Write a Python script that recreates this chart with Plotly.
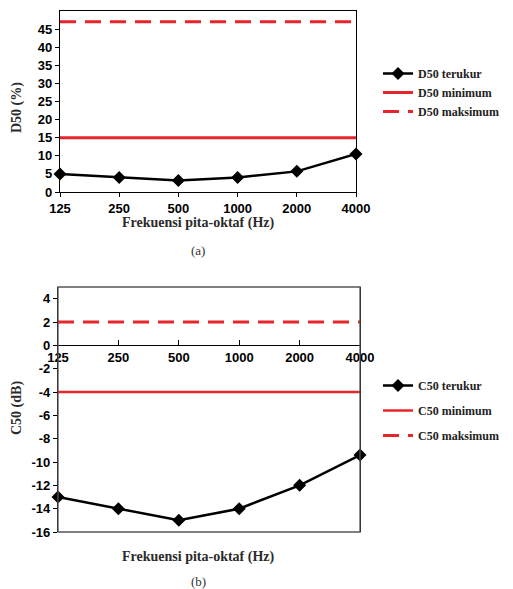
import plotly.graph_objects as go

freq_labels = ["125", "250", "500", "1000", "2000", "4000"]
d50_measured = [5.0, 4.0, 3.2, 4.0, 5.7, 10.5]
d50_min = [15] * 6
d50_max = [47] * 6
c50_measured = [-13.0, -14.0, -15.0, -14.0, -12.0, -9.4]
c50_min = [-4] * 6
c50_max = [2] * 6
d50_ticks = list(range(0, 50, 5))
c50_ticks = list(range(-16, 5, 2))

# page body has an 8px margin, so the figure is drawn at (8, 8)
OFF = 8
W, H = 513 - OFF, 589 - OFF
xi = list(range(len(freq_labels)))
RED = "#e8262a"
SERIF = "Liberation Serif"
SANS = "Liberation Sans"

def px(v):
    return (v - OFF) / W

def py(v):
    return 1 - (v - OFF) / H

fig = go.Figure()

# top chart
fig.add_trace(go.Scatter(x=xi, y=d50_measured, mode="lines+markers", name="D50 terukur",
                         line=dict(color="black", width=2.5),
                         marker=dict(symbol="diamond", size=10, color="black"),
                         xaxis="x", yaxis="y", legend="legend", cliponaxis=False))
fig.add_trace(go.Scatter(x=xi, y=d50_min, mode="lines", name="D50 minimum",
                         line=dict(color=RED, width=3), xaxis="x", yaxis="y", legend="legend"))
fig.add_trace(go.Scatter(x=xi, y=d50_max, mode="lines", name="D50 maksimum",
                         line=dict(color=RED, width=3, dash="16px,9px"), xaxis="x", yaxis="y", legend="legend"))

# bottom chart
fig.add_trace(go.Scatter(x=xi, y=c50_measured, mode="lines+markers", name="C50 terukur",
                         line=dict(color="black", width=2.5),
                         marker=dict(symbol="diamond", size=10, color="black"),
                         xaxis="x2", yaxis="y2", legend="legend2", legendgroup="a", cliponaxis=False))
fig.add_trace(go.Scatter(x=xi, y=c50_min, mode="lines", name="C50 minimum",
                         line=dict(color=RED, width=2.5), xaxis="x2", yaxis="y2",
                         legend="legend2", legendgroup="b"))
fig.add_trace(go.Scatter(x=xi, y=c50_max, mode="lines", name="C50 maksimum",
                         line=dict(color=RED, width=3, dash="16px,9px"), xaxis="x2", yaxis="y2",
                         legend="legend2", legendgroup="c"))

tickfont = dict(family=SANS, size=13, color="black", weight="bold")
axis_common = dict(showline=True, linecolor="black", linewidth=1.3, mirror=True,
                   showgrid=False, zeroline=False, tickfont=tickfont, ticklen=4,
                   tickcolor="black", automargin=False)

top_dom_y = [py(192), py(11)]
bot_dom_y = [py(532), py(287)]
bot_range = [-16, 5]
zero_pos = bot_dom_y[0] + (bot_dom_y[1] - bot_dom_y[0]) * (0 - bot_range[0]) / (bot_range[1] - bot_range[0])

fig.update_layout(
    width=W, height=H,
    margin=dict(l=0, r=0, t=0, b=0, autoexpand=False),
    paper_bgcolor="white", plot_bgcolor="white",
    xaxis=dict(domain=[px(60), px(356)], range=[0, 5], tickvals=xi, ticktext=freq_labels,
               ticks="outside", anchor="y", **axis_common),
    yaxis=dict(domain=top_dom_y, range=[0, 50], tickvals=d50_ticks,
               ticktext=[str(t) for t in d50_ticks],
               ticks="outside", anchor="x", **axis_common),
    xaxis2=dict(domain=[px(58), px(360)], range=[0, 5], tickvals=xi, ticktext=freq_labels,
                ticks="inside", ticklen=5, anchor="free", position=zero_pos,
                **{k: v for k, v in axis_common.items() if k not in ("ticklen", "mirror")}),
    yaxis2=dict(domain=bot_dom_y, range=bot_range, tickvals=c50_ticks,
                ticktext=[str(t) for t in c50_ticks],
                ticks="outside", anchor="x2", **axis_common),
    legend=dict(x=px(378), y=py(59), xanchor="left", yanchor="top",
                font=dict(family=SERIF, size=12, color="#222", weight="bold"),
                bgcolor="rgba(0,0,0,0)", tracegroupgap=0),
    legend2=dict(x=px(378), y=py(371), xanchor="left", yanchor="top",
                 font=dict(family=SERIF, size=12, color="#222", weight="bold"),
                 bgcolor="rgba(0,0,0,0)", traceorder="grouped", tracegroupgap=6),
    showlegend=True,
)

# box line for bottom chart (x axis placed at y=0)
fig.add_shape(type="rect", xref="x2 domain", yref="y2 domain", x0=0, x1=1, y0=0, y1=1,
              line=dict(color="#555", width=1.3))

title_font = dict(family=SERIF, size=14, color="#2b2b2b", weight="bold")
annos = [
    dict(text="Frekuensi pita-oktaf (Hz)", x=px(198), y=py(223), font=title_font),
    dict(text="(a)", x=px(198), y=py(250), font=dict(family=SERIF, size=13, color="#333")),
    dict(text="Frekuensi pita-oktaf (Hz)", x=px(198), y=py(557), font=title_font),
    dict(text="(b)", x=px(198), y=py(581), font=dict(family=SERIF, size=13, color="#333")),
    dict(text="D50 (%)", x=px(17), y=py(108), textangle=-90, font=title_font),
    dict(text="C50 (dB)", x=px(17), y=py(408), textangle=-90, font=title_font),
]
for a in annos:
    fig.add_annotation(xref="paper", yref="paper", showarrow=False,
                       xanchor="center", yanchor="middle", **a)

fig.write_html("out.html")
